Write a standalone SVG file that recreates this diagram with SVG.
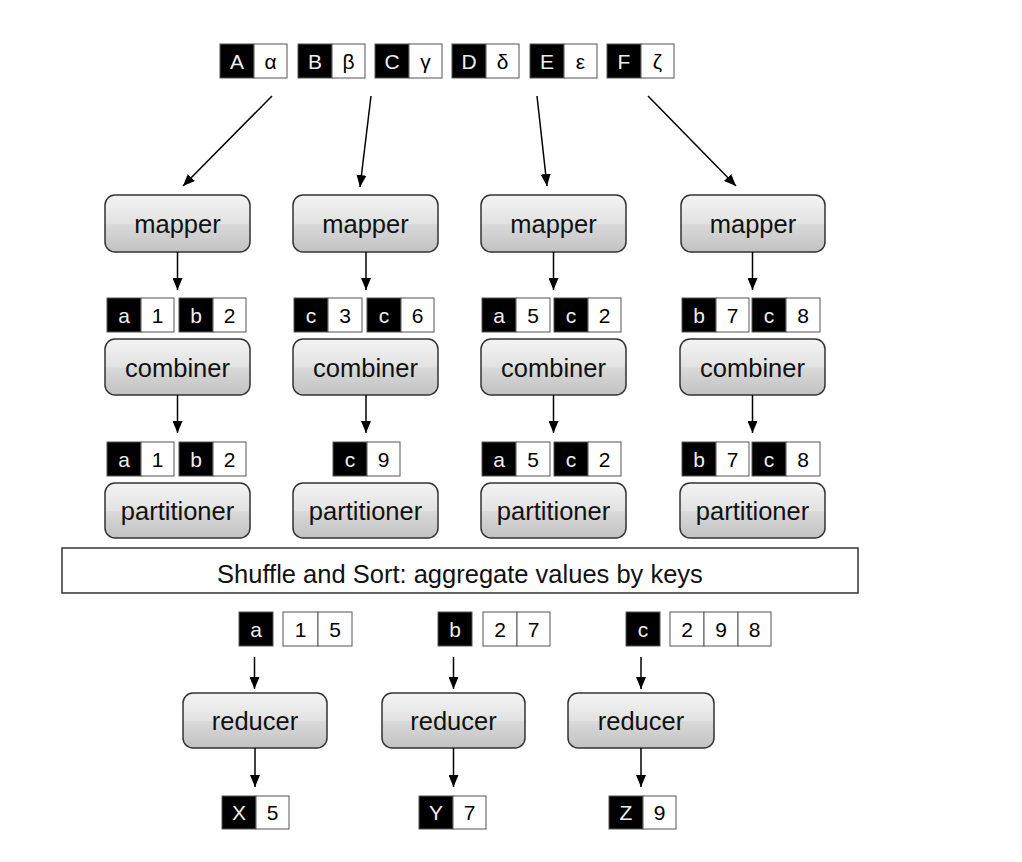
<svg xmlns="http://www.w3.org/2000/svg" width="1022" height="862" viewBox="0 0 1022 862">
<defs>
<linearGradient id="g" x1="0" y1="0" x2="0" y2="1">
<stop offset="0" stop-color="#f4f4f4"/>
<stop offset="0.5" stop-color="#e2e2e2"/>
<stop offset="0.52" stop-color="#d9d9d9"/>
<stop offset="1" stop-color="#c2c2c2"/>
</linearGradient>
<marker id="ah" viewBox="0 0 12 10" refX="12" refY="5" markerWidth="12" markerHeight="10" markerUnits="userSpaceOnUse" orient="auto">
<path d="M0,0 L12,5 L0,10 z" fill="#000"/>
</marker>
</defs>
<style>
.box{fill:url(#g);stroke:#333;stroke-width:1.5}
.lbl{font-family:"Liberation Sans",Arial,sans-serif;font-size:25.5px;fill:#111;text-anchor:middle}
.k{fill:#000;stroke:#555;stroke-width:1}
.v{fill:#fff;stroke:#555;stroke-width:1}
.kt{font-family:"Liberation Sans",Arial,sans-serif;font-size:21px;fill:#eeeeee;text-anchor:middle}
.vt{font-family:"Liberation Sans",Arial,sans-serif;font-size:21px;fill:#000;text-anchor:middle}
.c{stroke:#000;stroke-width:1.5;fill:none;marker-end:url(#ah)}
.sh{fill:#fff;stroke:#333;stroke-width:1.5}
</style>
<rect width="1022" height="862" fill="#fff"/>

<g id="inputs">
<g id="in-A"><rect class="k" x="220" y="44" width="34" height="34"/><rect class="v" x="254" y="44" width="33" height="34"/><text class="kt" x="237" y="68.5">A</text><text class="vt" x="270.5" y="68.5">α</text></g>
<g id="in-B"><rect class="k" x="298" y="44" width="34" height="34"/><rect class="v" x="332" y="44" width="33" height="34"/><text class="kt" x="315" y="68.5">B</text><text class="vt" x="348.5" y="68.5">β</text></g>
<g id="in-C"><rect class="k" x="375" y="44" width="34" height="34"/><rect class="v" x="409" y="44" width="33" height="34"/><text class="kt" x="392" y="68.5">C</text><text class="vt" x="425.5" y="68.5">γ</text></g>
<g id="in-D"><rect class="k" x="452" y="44" width="34" height="34"/><rect class="v" x="486" y="44" width="33" height="34"/><text class="kt" x="469" y="68.5">D</text><text class="vt" x="502.5" y="68.5">δ</text></g>
<g id="in-E"><rect class="k" x="530" y="44" width="34" height="34"/><rect class="v" x="564" y="44" width="33" height="34"/><text class="kt" x="547" y="68.5">E</text><text class="vt" x="580.5" y="68.5">ε</text></g>
<g id="in-F"><rect class="k" x="607" y="44" width="34" height="34"/><rect class="v" x="641" y="44" width="33" height="34"/><text class="kt" x="624" y="68.5">F</text><text class="vt" x="657.5" y="68.5">ζ</text></g>
</g>

<g id="mapper1"><rect class="box" x="105" y="195" width="145" height="57" rx="10"/><text class="lbl" x="177.5" y="233">mapper</text></g>
<g id="mapper2"><rect class="box" x="293" y="195" width="145" height="57" rx="10"/><text class="lbl" x="365.5" y="233">mapper</text></g>
<g id="mapper3"><rect class="box" x="481" y="195" width="145" height="57" rx="10"/><text class="lbl" x="553.5" y="233">mapper</text></g>
<g id="mapper4"><rect class="box" x="681" y="195" width="144" height="57" rx="10"/><text class="lbl" x="753" y="233">mapper</text></g>

<g id="mapout">
<g id="mo1"><rect class="k" x="107" y="298" width="34" height="34"/><rect class="v" x="141" y="298" width="33" height="34"/><text class="kt" x="124" y="322.5">a</text><text class="vt" x="157.5" y="322.5">1</text>
<rect class="k" x="179" y="298" width="34" height="34"/><rect class="v" x="213" y="298" width="33" height="34"/><text class="kt" x="196" y="322.5">b</text><text class="vt" x="229.5" y="322.5">2</text></g>
<g id="mo2"><rect class="k" x="294" y="298" width="34" height="34"/><rect class="v" x="328" y="298" width="34" height="34"/><text class="kt" x="311" y="322.5">c</text><text class="vt" x="345" y="322.5">3</text>
<rect class="k" x="367" y="298" width="34" height="34"/><rect class="v" x="401" y="298" width="33" height="34"/><text class="kt" x="384" y="322.5">c</text><text class="vt" x="417.5" y="322.5">6</text></g>
<g id="mo3"><rect class="k" x="482" y="298" width="34" height="34"/><rect class="v" x="516" y="298" width="34" height="34"/><text class="kt" x="499" y="322.5">a</text><text class="vt" x="533" y="322.5">5</text>
<rect class="k" x="554" y="298" width="34" height="34"/><rect class="v" x="588" y="298" width="33" height="34"/><text class="kt" x="571" y="322.5">c</text><text class="vt" x="604.5" y="322.5">2</text></g>
<g id="mo4"><rect class="k" x="682" y="298" width="34" height="34"/><rect class="v" x="716" y="298" width="33" height="34"/><text class="kt" x="699" y="322.5">b</text><text class="vt" x="732.5" y="322.5">7</text>
<rect class="k" x="752" y="298" width="34" height="34"/><rect class="v" x="786" y="298" width="34" height="34"/><text class="kt" x="769" y="322.5">c</text><text class="vt" x="803" y="322.5">8</text></g>
</g>

<g id="combiner1"><rect class="box" x="105" y="339" width="145" height="56" rx="10"/><text class="lbl" x="177.5" y="377">combiner</text></g>
<g id="combiner2"><rect class="box" x="293" y="339" width="145" height="56" rx="10"/><text class="lbl" x="365.5" y="377">combiner</text></g>
<g id="combiner3"><rect class="box" x="481" y="339" width="145" height="56" rx="10"/><text class="lbl" x="553.5" y="377">combiner</text></g>
<g id="combiner4"><rect class="box" x="680" y="339" width="145" height="56" rx="10"/><text class="lbl" x="752.5" y="377">combiner</text></g>

<g id="combout">
<g id="co1"><rect class="k" x="107" y="442" width="34" height="34"/><rect class="v" x="141" y="442" width="33" height="34"/><text class="kt" x="124" y="466.5">a</text><text class="vt" x="157.5" y="466.5">1</text>
<rect class="k" x="179" y="442" width="34" height="34"/><rect class="v" x="213" y="442" width="33" height="34"/><text class="kt" x="196" y="466.5">b</text><text class="vt" x="229.5" y="466.5">2</text></g>
<g id="co2"><rect class="k" x="333" y="442" width="34" height="34"/><rect class="v" x="367" y="442" width="33" height="34"/><text class="kt" x="350" y="466.5">c</text><text class="vt" x="383.5" y="466.5">9</text></g>
<g id="co3"><rect class="k" x="482" y="442" width="34" height="34"/><rect class="v" x="516" y="442" width="34" height="34"/><text class="kt" x="499" y="466.5">a</text><text class="vt" x="533" y="466.5">5</text>
<rect class="k" x="554" y="442" width="34" height="34"/><rect class="v" x="588" y="442" width="33" height="34"/><text class="kt" x="571" y="466.5">c</text><text class="vt" x="604.5" y="466.5">2</text></g>
<g id="co4"><rect class="k" x="682" y="442" width="34" height="34"/><rect class="v" x="716" y="442" width="33" height="34"/><text class="kt" x="699" y="466.5">b</text><text class="vt" x="732.5" y="466.5">7</text>
<rect class="k" x="752" y="442" width="34" height="34"/><rect class="v" x="786" y="442" width="34" height="34"/><text class="kt" x="769" y="466.5">c</text><text class="vt" x="803" y="466.5">8</text></g>
</g>

<g id="partitioner1"><rect class="box" x="105" y="483" width="145" height="55" rx="10"/><text class="lbl" x="177.5" y="520">partitioner</text></g>
<g id="partitioner2"><rect class="box" x="293" y="483" width="145" height="55" rx="10"/><text class="lbl" x="365.5" y="520">partitioner</text></g>
<g id="partitioner3"><rect class="box" x="481" y="483" width="145" height="55" rx="10"/><text class="lbl" x="553.5" y="520">partitioner</text></g>
<g id="partitioner4"><rect class="box" x="680" y="483" width="145" height="55" rx="10"/><text class="lbl" x="752.5" y="520">partitioner</text></g>

<g id="shuffle"><rect class="sh" x="62" y="548" width="796" height="45"/><text class="lbl" x="460" y="583">Shuffle and Sort: aggregate values by keys</text></g>

<g id="groups">
<g id="ga"><rect class="k" x="239" y="612" width="34" height="34"/><text class="kt" x="256" y="636.5">a</text>
<rect class="v" x="283" y="612" width="35" height="34"/><rect class="v" x="318" y="612" width="34" height="34"/><text class="vt" x="300.5" y="636.5">1</text><text class="vt" x="335" y="636.5">5</text></g>
<g id="gb"><rect class="k" x="438" y="612" width="34" height="34"/><text class="kt" x="455" y="636.5">b</text>
<rect class="v" x="483" y="612" width="34" height="34"/><rect class="v" x="517" y="612" width="33" height="34"/><text class="vt" x="500" y="636.5">2</text><text class="vt" x="533.5" y="636.5">7</text></g>
<g id="gc"><rect class="k" x="626" y="612" width="34" height="34"/><text class="kt" x="643" y="636.5">c</text>
<rect class="v" x="670" y="612" width="34" height="34"/><rect class="v" x="704" y="612" width="34" height="34"/><rect class="v" x="738" y="612" width="33" height="34"/><text class="vt" x="687" y="636.5">2</text><text class="vt" x="721" y="636.5">9</text><text class="vt" x="754.5" y="636.5">8</text></g>
</g>

<g id="reducer1"><rect class="box" x="183" y="693" width="144" height="55" rx="10"/><text class="lbl" x="255" y="730">reducer</text></g>
<g id="reducer2"><rect class="box" x="382" y="693" width="143" height="55" rx="10"/><text class="lbl" x="453.5" y="730">reducer</text></g>
<g id="reducer3"><rect class="box" x="568" y="693" width="146" height="55" rx="10"/><text class="lbl" x="641" y="730">reducer</text></g>

<g id="outputs">
<g id="out-X"><rect class="k" x="222" y="796" width="34" height="33"/><rect class="v" x="256" y="796" width="33" height="33"/><text class="kt" x="239" y="820">X</text><text class="vt" x="272.5" y="820">5</text></g>
<g id="out-Y"><rect class="k" x="419" y="796" width="34" height="33"/><rect class="v" x="453" y="796" width="33" height="33"/><text class="kt" x="436" y="820">Y</text><text class="vt" x="469.5" y="820">7</text></g>
<g id="out-Z"><rect class="k" x="609" y="796" width="34" height="33"/><rect class="v" x="643" y="796" width="33" height="33"/><text class="kt" x="626" y="820">Z</text><text class="vt" x="659.5" y="820">9</text></g>
</g>

<g id="connectors">
<line class="c" x1="272" y1="96" x2="183" y2="186"/>
<line class="c" x1="371" y1="96" x2="360" y2="187"/>
<line class="c" x1="537" y1="96" x2="547" y2="186"/>
<line class="c" x1="648" y1="96" x2="736" y2="186"/>
<line class="c" x1="177.5" y1="252" x2="177.5" y2="290"/>
<line class="c" x1="366" y1="252" x2="366" y2="290"/>
<line class="c" x1="553.5" y1="252" x2="553.5" y2="290"/>
<line class="c" x1="752.5" y1="252" x2="752.5" y2="290"/>
<line class="c" x1="177.5" y1="395" x2="177.5" y2="433"/>
<line class="c" x1="366" y1="395" x2="366" y2="433"/>
<line class="c" x1="553.5" y1="395" x2="553.5" y2="433"/>
<line class="c" x1="752.5" y1="395" x2="752.5" y2="433"/>
<line class="c" x1="254.5" y1="657" x2="254.5" y2="689"/>
<line class="c" x1="453.5" y1="657" x2="453.5" y2="689"/>
<line class="c" x1="641" y1="657" x2="641" y2="689"/>
<line class="c" x1="255" y1="748" x2="255" y2="787"/>
<line class="c" x1="453.5" y1="748" x2="453.5" y2="787"/>
<line class="c" x1="641" y1="748" x2="641" y2="787"/>
</g>
</svg>
